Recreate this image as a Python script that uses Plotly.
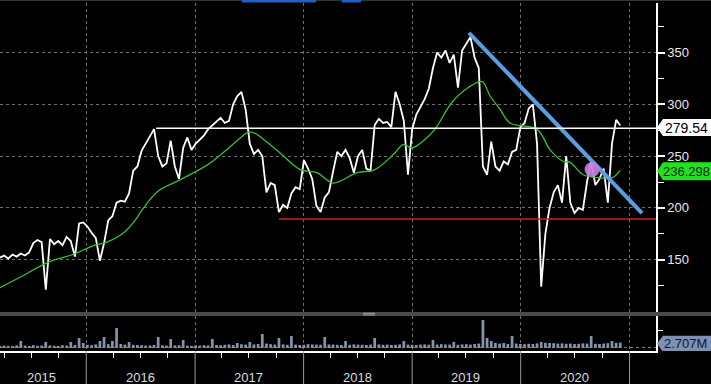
import pandas as pd
import plotly.graph_objects as go

# ---------------- data ----------------
price_start = "2015-03-17"
price = [152,154,151,155,153,156,154,157,166,169,
         167,121,170,165,168,164,172,168,153,185,
         186,182,176,171,149,166,188,192,205,207,
         206,214,236,240,255,262,268,276,250,240,
         243,265,240,228,258,268,256,262,266,270,
         276,280,284,287,282,284,300,308,312,295,
         262,252,256,250,215,224,222,196,203,200,
         214,220,218,246,238,228,202,196,210,215,
         235,254,250,256,248,234,250,256,238,236,
         280,286,282,283,278,312,300,284,232,276,
         290,298,305,315,335,350,345,352,340,348,
         316,352,358,365,345,335,240,232,264,240,
         236,245,242,254,256,278,282,296,300,262,
         124,175,200,215,222,205,250,205,195,200,
         198,225,245,222,228,238,205,262,285,279.54]

volume = [1.0,1.2,1.1,0.9,1.3,3.5,1.2,1.0,1.4,1.1,1.2,3.0,1.3,1.1,1.0,1.4,1.2,3.0,1.5,5.0,
          2.5,1.6,1.4,1.8,3.5,5.5,1.9,3.5,10.0,2.0,1.7,3.0,1.6,1.5,1.4,1.2,1.3,1.5,5.5,1.3,
          1.2,4.5,1.3,1.4,4.0,1.2,1.1,1.3,1.2,1.4,1.3,4.5,1.5,1.4,1.6,1.8,1.5,2.5,1.9,1.7,
          3.0,1.8,2.0,7.0,2.2,1.9,1.7,5.0,1.8,1.6,6.0,1.7,1.5,1.6,1.9,1.8,1.7,1.6,5.5,1.8,
          1.7,1.6,1.5,3.5,1.6,1.8,1.7,1.6,1.5,1.7,5.0,1.8,1.6,1.7,1.5,1.6,1.8,3.5,1.7,1.6,
          1.5,1.7,1.8,1.6,4.0,1.7,1.9,1.8,1.7,3.0,1.6,1.8,1.9,1.7,2.0,2.2,14.0,5.0,3.5,2.6,
          2.2,2.5,2.0,6.0,2.2,2.0,1.9,2.1,2.0,2.3,3.0,2.6,2.5,2.4,2.2,2.3,2.1,2.2,2.0,2.1,
          2.3,2.2,6.0,2.1,2.0,2.2,2.4,3.5,2.6,2.707]

ma_dates = ["2015-03-17","2015-05-23","2015-08-22","2015-11-17","2016-01-30","2016-03-11",
            "2016-05-10","2016-06-13","2016-07-07","2016-08-29","2016-11-11","2017-02-14",
            "2017-04-12","2017-06-08","2017-06-28","2017-07-22","2017-08-24","2017-10-14",
            "2017-12-20","2018-02-15","2018-04-10","2018-06-30","2018-08-29","2018-11-04",
            "2018-12-01","2019-01-01","2019-02-13","2019-03-19","2019-05-15","2019-07-08",
            "2019-08-24","2019-09-20","2019-10-24","2019-11-26","2020-02-25","2020-04-09",
            "2020-05-22","2020-06-15","2020-07-29","2020-09-24","2020-11-03","2020-12-01"]
ma_values = [123,133,147,155,164,167,177,188,198,216,227,242,255,269,273,272,265,253,
             237,234,224,234,237,253,261,258,266,276,302,316,322,308,295,282,276,256,
             245,244,232,229,229,236.298]

trend_dates = ["2019-07-11", "2021-02-12"]
trend_values = [369, 195]
circle_date = ["2020-08-28"]
circle_value = [237]
resist_start, resist_level = "2016-08-23", 277
support_start, support_level = "2017-10-10", 189.3
last_price_label = "279.54"
ma_label = "236.298"
vol_label = "2.707M"

year_labels = ["2015", "2016", "2017", "2018", "2019", "2020"]
year_label_pos = ["2015-08-05", "2016-07-01", "2017-07-01", "2018-07-01", "2019-07-01", "2020-07-01"]
year_starts = ["2016-01-01", "2017-01-01", "2018-01-01", "2019-01-01", "2020-01-01", "2021-01-01"]

x_range = ["2015-03-17", "2021-03-31"]
y_range = [99.5, 397.8]
y_ticks = [150, 200, 250, 300, 350]
y_minor = [125, 175, 225, 275, 325, 375]

dates = pd.date_range(price_start, periods=len(price), freq="14D")

# ---------------- layout helpers ----------------
W, H = 711, 384
AX_X = 656 / W
def py(pix):
    return (H - pix) / H

FONT = "Liberation Sans, Arial, sans-serif"
GRID = "#6e6e6e"

fig = go.Figure()

fig.add_trace(go.Scatter(x=dates, y=price, mode="lines",
                         line=dict(color="white", width=1.8), xaxis="x", yaxis="y"))
fig.add_trace(go.Scatter(x=ma_dates, y=ma_values, mode="lines",
                         line=dict(color="#33c133", width=1.3, shape="spline"),
                         xaxis="x", yaxis="y"))
fig.add_trace(go.Scatter(x=trend_dates, y=trend_values, mode="lines",
                         line=dict(color="#5a9de0", width=4), xaxis="x", yaxis="y"))
fig.add_trace(go.Scatter(x=circle_date, y=circle_value, mode="markers",
                         marker=dict(size=15, color="#c67ee0", opacity=0.92),
                         xaxis="x", yaxis="y"))
fig.add_trace(go.Bar(x=dates, y=volume, marker=dict(color="#8494ad", line_width=0),
                     xaxis="x2", yaxis="y2"))

shapes = []
shapes.append(dict(type="line", xref="x", yref="y", x0=resist_start, x1=x_range[1],
                   y0=resist_level, y1=resist_level, line=dict(color="white", width=1.5)))
shapes.append(dict(type="line", xref="x", yref="y", x0=support_start, x1=x_range[1],
                   y0=support_level, y1=support_level, line=dict(color="#c4261c", width=1.5)))
shapes.append(dict(type="line", xref="x2", yref="y2", x0=x_range[0], x1=x_range[1],
                   y0=0.3, y1=0.3, line=dict(color="#8a8a8a", width=1, dash="dot")))
for d in year_starts:
    shapes.append(dict(type="line", xref="x", yref="paper", x0=d, x1=d, y0=0, y1=py(351),
                       line=dict(color="#9a9a9a", width=1)))
shapes.append(dict(type="rect", xref="paper", yref="paper", x0=0, x1=1, y0=py(316), y1=py(312),
                   fillcolor="#4b4b4b", line_width=0, layer="below"))
shapes.append(dict(type="line", xref="paper", yref="paper", x0=363/W, x1=375/W,
                   y0=py(313.3), y1=py(313.3), line=dict(color="#a0a0a0", width=1)))
shapes.append(dict(type="line", xref="paper", yref="paper", x0=363/W, x1=375/W,
                   y0=py(315), y1=py(315), line=dict(color="#a0a0a0", width=1)))
shapes.append(dict(type="rect", xref="paper", yref="paper", x0=0, x1=1, y0=py(1), y1=1,
                   fillcolor="#333333", line_width=0))
shapes.append(dict(type="rect", xref="paper", yref="paper", x0=242/W, x1=316/W, y0=py(2.5), y1=1,
                   fillcolor="#1b5fd4", line_width=0))
shapes.append(dict(type="rect", xref="paper", yref="paper", x0=342/W, x1=361/W, y0=py(2.5), y1=1,
                   fillcolor="#1b5fd4", line_width=0))

def callout(yref, yval, color, halfh):
    return dict(type="path", xref="paper", yref=yref, xsizemode="pixel", ysizemode="pixel",
                xanchor=AX_X, yanchor=yval,
                path=f"M 1,0 L 7,{-halfh} L 56,{-halfh} L 56,{halfh} L 7,{halfh} Z",
                fillcolor=color, line_width=0)
shapes.append(callout("y", 277.5, "white", 8.5))
shapes.append(callout("y", 235.3, "#22e022", 9))
shapes.append(callout("y2", 2.1, "#7c91b3", 8))

annotations = []
annotations.append(dict(x=AX_X, y=277.5, xref="paper", yref="y", xanchor="left", xshift=7,
                        text=last_price_label, showarrow=False,
                        font=dict(family=FONT, size=14, color="black")))
annotations.append(dict(x=AX_X, y=235.3, xref="paper", yref="y", xanchor="left", xshift=5,
                        text=ma_label, showarrow=False,
                        font=dict(family=FONT, size=13, color="#0b2a0b")))
annotations.append(dict(x=AX_X, y=2.1, xref="paper", yref="y2", xanchor="left", xshift=6,
                        text=vol_label, showarrow=False,
                        font=dict(family=FONT, size=13, color="#0d1a30")))
for lab, pos in zip(year_labels, year_label_pos):
    annotations.append(dict(x=pos, y=py(377), xref="x", yref="paper", xanchor="center",
                            yanchor="middle", text=lab, showarrow=False,
                            font=dict(family=FONT, size=13, color="#dcdcdc")))

fig.update_layout(
    width=W, height=H, margin=dict(l=0, r=0, t=0, b=0),
    paper_bgcolor="black", plot_bgcolor="black", showlegend=False, bargap=0.35,
    shapes=shapes, annotations=annotations,
    xaxis=dict(domain=[0, AX_X], range=x_range, anchor="y", showticklabels=False,
               ticks="", showgrid=True, gridcolor=GRID, griddash="dot", gridwidth=1,
               dtick="M12", tick0="2016-01-01", zeroline=False, showline=False),
    yaxis=dict(domain=[py(312), py(3)], range=y_range, side="right", anchor="x",
               tickvals=y_ticks, ticks="outside", ticklen=7, tickwidth=2, tickcolor="white",
               showline=True, linecolor="white", linewidth=1.5,
               showgrid=True, gridcolor=GRID, griddash="dot", zeroline=False,
               minor=dict(tickvals=y_minor, ticks="outside", ticklen=6, tickwidth=1,
                          tickcolor="white", showgrid=False),
               tickfont=dict(family=FONT, size=13, color="#e8e8e8")),
    xaxis2=dict(domain=[0, AX_X], range=x_range, anchor="y2", matches="x",
                showticklabels=False, ticks="", showgrid=True, gridcolor=GRID,
                griddash="dot", dtick="M12", tick0="2016-01-01", zeroline=False,
                showline=True, linecolor="white", linewidth=1.5,
                minor=dict(ticks="outside", ticklen=5, tickcolor="white", dtick="M3",
                           tick0="2016-01-01", showgrid=False)),
    yaxis2=dict(domain=[py(351), py(316)], range=[-1.5, 16], side="right", anchor="x2",
                tickvals=[9], ticks="outside", ticklen=5, tickcolor="white",
                showticklabels=False, showline=True, linecolor="white", linewidth=1.5,
                showgrid=False, zeroline=False),
)

fig.write_html("out.html", config={"displayModeBar": False},
               post_script="document.body.style.margin='0px';")
